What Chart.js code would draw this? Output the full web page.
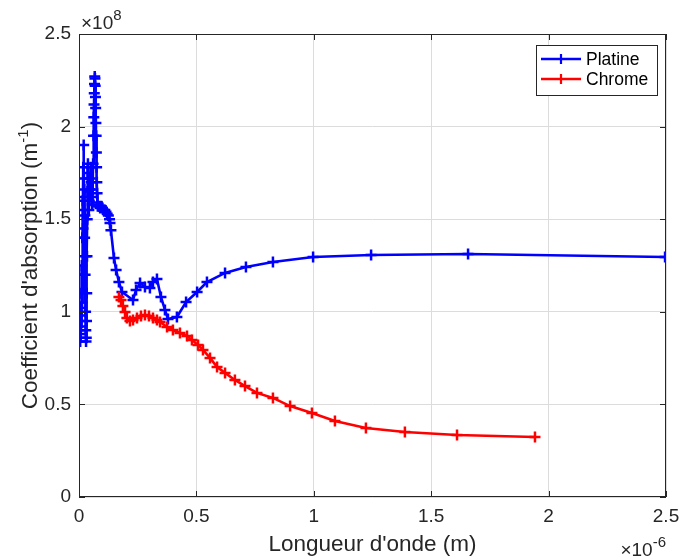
<!DOCTYPE html>
<html>
<head>
<meta charset="utf-8">
<script src="https://cdn.jsdelivr.net/npm/chart.js@4"></script>
<style>
  html, body { margin: 0; padding: 0; background: #fff; }
</style>
</head>
<body>
<canvas id="absorptionChart" width="681" height="556"></canvas>
<script>
// wavelength in 1e-6 m, absorption in 1e8 m^-1 (exponents drawn on the axes)
const platineWavelength = [
  0.003, 0.004, 0.005, 0.006, 0.007, 0.008, 0.009, 0.010, 0.011, 0.012,
  0.013, 0.014, 0.015, 0.016, 0.017, 0.018, 0.019, 0.020, 0.021, 0.022,
  0.023, 0.024, 0.025, 0.026, 0.027, 0.028, 0.029, 0.030, 0.031, 0.032,
  0.033, 0.034, 0.035, 0.036, 0.037, 0.038, 0.039, 0.040, 0.042, 0.044,
  0.046, 0.048, 0.050, 0.052, 0.054, 0.056, 0.058, 0.060, 0.062, 0.063,
  0.064, 0.065, 0.066, 0.067, 0.068, 0.069, 0.070, 0.071, 0.072, 0.073,
  0.074, 0.075, 0.076, 0.077, 0.078, 0.080, 0.085, 0.090, 0.095, 0.100,
  0.105, 0.110, 0.115, 0.120, 0.125, 0.130, 0.132, 0.136, 0.149, 0.158,
  0.170, 0.183, 0.230, 0.243, 0.260, 0.281, 0.302, 0.315, 0.332, 0.349,
  0.366, 0.379, 0.417, 0.456, 0.503, 0.545, 0.622, 0.711, 0.826, 0.997,
  1.244, 1.657, 2.496
];
const platineAbsorption = [
  0.86, 0.90, 0.84, 0.95, 0.88, 1.02, 0.92, 1.10, 0.98, 1.25,
  1.05, 1.40, 1.20, 1.60, 1.45, 1.78, 1.62, 1.90, 1.72, 1.55,
  1.66, 1.40, 1.52, 1.20, 1.30, 1.00, 0.90, 0.84, 0.86, 0.95,
  1.10, 1.30, 1.50, 1.65, 1.75, 1.80, 1.72, 1.62, 1.55, 1.60,
  1.66, 1.72, 1.78, 1.70, 1.62, 1.58, 1.66, 1.80, 1.95, 2.05,
  2.12, 2.18, 2.23, 2.27, 2.26, 2.22, 2.16, 2.10, 2.02, 1.95,
  1.86, 1.78, 1.70, 1.64, 1.59, 1.57, 1.57, 1.56, 1.57, 1.56,
  1.55, 1.55, 1.54, 1.53, 1.52, 1.50, 1.48, 1.44, 1.29, 1.226,
  1.161, 1.107, 1.064, 1.118, 1.156, 1.134, 1.129, 1.161, 1.177, 1.080,
  1.010, 0.961, 0.972, 1.053, 1.107, 1.161, 1.210, 1.242, 1.269, 1.296,
  1.307, 1.312, 1.296
];
const chromeWavelength = [
  0.170, 0.179, 0.187, 0.196, 0.204, 0.217, 0.230, 0.247, 0.264, 0.281,
  0.298, 0.315, 0.332, 0.345, 0.375, 0.400, 0.430, 0.460, 0.481, 0.507,
  0.528, 0.558, 0.588, 0.622, 0.664, 0.707, 0.758, 0.826, 0.899, 0.992,
  1.090, 1.222, 1.388, 1.610, 1.942
];
const chromeAbsorption = [
  1.080, 1.064, 1.031, 0.999, 0.967, 0.950, 0.956, 0.967, 0.977, 0.983,
  0.977, 0.967, 0.956, 0.945, 0.918, 0.902, 0.886, 0.869, 0.848, 0.821,
  0.794, 0.751, 0.702, 0.670, 0.632, 0.599, 0.562, 0.535, 0.491, 0.454,
  0.410, 0.373, 0.351, 0.335, 0.324
];
const xTicks = [0, 0.5, 1, 1.5, 2, 2.5];
const yTicks = [0, 0.5, 1, 1.5, 2, 2.5];

const FONT = '"Liberation Sans", Arial, Helvetica, sans-serif';
const INK = '#262626';

function toPoints(xs, ys) {
  return xs.map((x, i) => ({ x: x, y: ys[i] }));
}

function seriesStyle(color) {
  return {
    borderColor: color,
    backgroundColor: color,
    borderWidth: 2.6,
    showLine: true,
    pointStyle: 'cross',
    pointRadius: 5.5,
    pointBorderWidth: 2.5,
    pointHoverRadius: 5.5,
    tension: 0
  };
}

// box, inward ticks, exponents, axis titles and legend drawn like the original
const matlabDecor = {
  id: 'matlabDecor',
  afterDraw(chart) {
    const ctx = chart.ctx;
    const a = chart.chartArea;
    const xs = chart.scales.x, ys = chart.scales.y;
    ctx.save();

    ctx.strokeStyle = INK;
    ctx.lineWidth = 1;
    ctx.strokeRect(a.left + 0.5, a.top + 0.5, a.right - a.left - 1, a.bottom - a.top - 1);

    ctx.beginPath();
    xTicks.forEach(v => {
      const px = Math.round(xs.getPixelForValue(v)) + 0.5;
      ctx.moveTo(px, a.bottom); ctx.lineTo(px, a.bottom - 6);
      ctx.moveTo(px, a.top); ctx.lineTo(px, a.top + 6);
    });
    yTicks.forEach(v => {
      const py = Math.round(ys.getPixelForValue(v)) + 0.5;
      ctx.moveTo(a.left, py); ctx.lineTo(a.left + 6, py);
      ctx.moveTo(a.right, py); ctx.lineTo(a.right - 6, py);
    });
    ctx.stroke();

    ctx.fillStyle = INK;
    ctx.textBaseline = 'alphabetic';

    // x10^8 over the y axis
    ctx.textAlign = 'left';
    ctx.font = '19px ' + FONT;
    ctx.fillText('\u00d710', a.left + 2, 29);
    let w = ctx.measureText('\u00d710').width;
    ctx.font = '15px ' + FONT;
    ctx.fillText('8', a.left + 2 + w, 20);

    // x10^-6 under the x axis
    ctx.font = '15px ' + FONT;
    const sup = '-6';
    const sw = ctx.measureText(sup).width;
    ctx.textAlign = 'right';
    ctx.fillText(sup, a.right, 547);
    ctx.font = '19px ' + FONT;
    ctx.fillText('\u00d710', a.right - sw, 556);

    // x title
    ctx.font = '22.5px ' + FONT;
    ctx.textAlign = 'center';
    ctx.fillText("Longueur d'onde (m)", (a.left + a.right) / 2, 551);

    // y title with superscript
    ctx.save();
    ctx.translate(37, (a.top + a.bottom) / 2);
    ctx.rotate(-Math.PI / 2);
    const main = "Coefficient d'absorption (m";
    ctx.font = '22.5px ' + FONT;
    const mw = ctx.measureText(main).width;
    ctx.font = '15px ' + FONT;
    const ew = ctx.measureText('-1').width;
    ctx.font = '22.5px ' + FONT;
    const pw = ctx.measureText(')').width;
    let start = -(mw + ew + pw) / 2;
    ctx.textAlign = 'left';
    ctx.fillText(main, start, 0);
    ctx.font = '15px ' + FONT;
    ctx.fillText('-1', start + mw, -9);
    ctx.font = '22.5px ' + FONT;
    ctx.fillText(')', start + mw + ew, 0);
    ctx.restore();

    // legend
    const lx = 536, ly = 45, lw = 121, lh = 50;
    ctx.fillStyle = '#fff';
    ctx.fillRect(lx, ly, lw, lh);
    ctx.strokeStyle = INK;
    ctx.lineWidth = 1;
    ctx.strokeRect(lx + 0.5, ly + 0.5, lw, lh);
    chart.data.datasets.forEach((ds, i) => {
      const y = ly + 14 + i * 20;
      ctx.strokeStyle = ds.borderColor;
      ctx.lineWidth = 2.5;
      ctx.beginPath();
      ctx.moveTo(lx + 5, y); ctx.lineTo(lx + 45, y);
      ctx.stroke();
      ctx.lineWidth = 2.2;
      ctx.beginPath();
      ctx.moveTo(lx + 25, y - 5); ctx.lineTo(lx + 25, y + 5);
      ctx.stroke();
      ctx.fillStyle = '#000';
      ctx.font = '17.5px ' + FONT;
      ctx.textAlign = 'left';
      ctx.textBaseline = 'middle';
      ctx.fillText(ds.label, lx + 50, y + 1);
    });

    ctx.restore();
  }
};

const ctx = document.getElementById('absorptionChart').getContext('2d');
new Chart(ctx, {
  type: 'scatter',
  data: {
    datasets: [
      Object.assign({ label: 'Platine', data: toPoints(platineWavelength, platineAbsorption), order: 2 }, seriesStyle('#0000ff')),
      Object.assign({ label: 'Chrome', data: toPoints(chromeWavelength, chromeAbsorption), order: 1 }, seriesStyle('#ff0000'))
    ]
  },
  options: {
    responsive: false,
    animation: false,
    devicePixelRatio: 1,
    layout: { padding: { top: 34, right: 15, left: 0, bottom: 0 } },
    plugins: {
      legend: { display: false },
      tooltip: { enabled: false }
    },
    scales: {
      x: {
        type: 'linear',
        min: 0,
        max: 2.5,
        afterBuildTicks: s => { s.ticks = xTicks.map(v => ({ value: v })); },
        afterFit: s => { s.height = 59; s.paddingLeft = 0; s.paddingRight = 0; },
        grid: { color: '#dcdcdc', drawTicks: false },
        border: { display: false },
        ticks: {
          padding: 8,
          color: INK,
          font: { family: FONT, size: 19 },
          maxRotation: 0,
          callback: v => String(v)
        }
      },
      y: {
        type: 'linear',
        min: 0,
        max: 2.5,
        afterBuildTicks: s => { s.ticks = yTicks.map(v => ({ value: v })); },
        afterFit: s => { s.width = 79; s.paddingTop = 0; s.paddingBottom = 0; },
        grid: { color: '#dcdcdc', drawTicks: false },
        border: { display: false },
        ticks: {
          padding: 8,
          color: INK,
          font: { family: FONT, size: 19 },
          callback: v => String(v)
        }
      }
    }
  },
  plugins: [matlabDecor]
});
</script>
</body>
</html>
